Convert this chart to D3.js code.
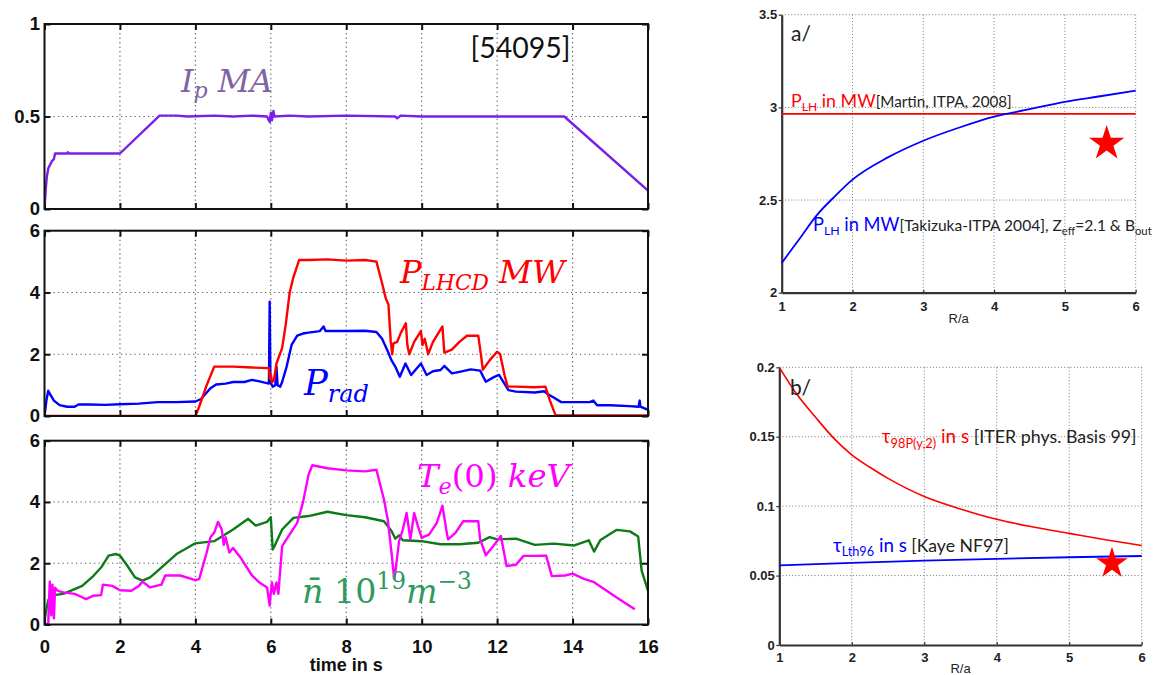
<!DOCTYPE html>
<html><head><meta charset="utf-8">
<script src="https://cdn.jsdelivr.net/npm/d3@7"></script>
<style>body{margin:0;background:#fff}svg text{white-space:pre}</style>
</head><body>
<svg id="c" width="1155" height="675"></svg>
<script>
// ---------------- DATA ----------------
const timeTicks = [0,2,4,6,8,10,12,14,16];
const ipTicks = [0,0.5,1];
const powTicks = [0,2,4,6];
const shotLabel = "[54095]";

const ip = [[0,0],[0.03,0.1],[0.06,0.17],[0.1,0.22],[0.15,0.24],[0.2,0.26],[0.25,0.27],[0.28,0.3],[0.6,0.3],[0.62,0.307],[0.64,0.3],[2.0,0.3],[3.05,0.505],[3.5,0.505],[3.8,0.5],[4.5,0.505],[5.0,0.5],[5.5,0.505],[5.9,0.5],[5.97,0.47],[6.0,0.52],[6.03,0.48],[6.07,0.53],[6.1,0.5],[6.5,0.505],[7,0.5],[8,0.505],[9.3,0.5],[9.35,0.49],[9.45,0.505],[10,0.5],[11,0.5],[13.78,0.5],[16,0.1]];

const pLHCD = [[0,0],[4.0,0],[4.1,0.3],[4.3,1.0],[4.5,1.6],[5.0,1.6],[5.5,1.57],[5.95,1.55],[5.98,1.2],[6.0,1.35],[6.03,1.1],[6.08,1.15],[6.15,1.7],[6.3,2.2],[6.4,3.0],[6.5,4.0],[6.6,4.5],[6.75,5.05],[7.0,5.05],[7.5,5.07],[8.0,5.03],[8.5,5.05],[8.8,5.0],[8.95,4.3],[9.05,3.8],[9.12,3.6],[9.18,2.4],[9.22,2.0],[9.25,2.35],[9.35,2.4],[9.45,2.7],[9.58,3.0],[9.62,2.3],[9.67,2.0],[9.8,2.4],[9.98,2.75],[10.02,2.3],[10.08,2.5],[10.12,2.3],[10.17,2.0],[10.3,2.4],[10.45,2.7],[10.55,2.9],[10.6,2.05],[10.8,2.15],[11.0,2.4],[11.2,2.6],[11.5,2.6],[11.58,1.9],[11.62,1.5],[11.8,1.8],[12.0,2.08],[12.08,2.0],[12.2,1.3],[12.28,0.95],[12.5,0.95],[13.0,0.93],[13.28,0.95],[13.4,0.5],[13.55,0.02],[16,0.02]];

const pRad = [[0,0],[0.05,0.5],[0.1,0.82],[0.15,0.7],[0.25,0.5],[0.4,0.35],[0.6,0.3],[0.8,0.3],[0.9,0.37],[1.2,0.37],[1.6,0.36],[2.0,0.38],[2.5,0.4],[3.0,0.45],[3.5,0.45],[4.0,0.47],[4.15,0.55],[4.4,0.9],[4.55,1.02],[4.8,1.05],[5.0,1.1],[5.3,1.1],[5.5,1.17],[5.7,1.12],[5.95,1.05],[5.97,3.7],[5.99,1.1],[6.05,0.95],[6.12,1.0],[6.15,1.6],[6.18,1.0],[6.25,0.95],[6.3,1.1],[6.42,1.6],[6.55,2.3],[6.7,2.6],[6.85,2.67],[7.0,2.7],[7.3,2.75],[7.4,2.9],[7.45,2.75],[8.0,2.75],[8.5,2.76],[8.8,2.72],[8.95,2.5],[9.1,2.1],[9.2,1.8],[9.3,1.6],[9.42,1.27],[9.57,1.7],[9.72,1.33],[9.98,1.7],[10.13,1.33],[10.3,1.45],[10.5,1.49],[10.6,1.62],[10.8,1.38],[11.0,1.43],[11.3,1.51],[11.55,1.47],[11.7,1.11],[11.9,1.25],[12.05,1.33],[12.3,0.84],[12.5,0.79],[13.0,0.76],[13.25,0.8],[13.35,0.7],[13.5,0.6],[13.7,0.45],[14.45,0.45],[14.55,0.5],[14.65,0.35],[15.0,0.35],[15.5,0.32],[15.75,0.3],[15.78,0.5],[15.8,0.3],[16,0.2]];

const te0 = [[0,0],[0.1,0.05],[0.14,1.4],[0.18,0.3],[0.21,1.3],[0.25,0.2],[0.28,1.2],[0.35,1.1],[0.5,1.05],[0.8,1.0],[1.0,0.89],[1.1,0.83],[1.3,0.94],[1.5,0.96],[1.55,1.3],[1.8,1.26],[2.0,1.12],[2.3,1.1],[2.5,1.26],[2.6,1.4],[2.8,1.21],[3.1,1.3],[3.2,1.6],[3.6,1.6],[4.0,1.45],[4.1,1.48],[4.3,2.35],[4.4,2.85],[4.5,3.0],[4.6,3.35],[4.7,3.1],[4.75,2.6],[4.8,2.85],[4.9,2.35],[5.0,2.5],[5.2,2.18],[5.5,1.6],[5.7,1.37],[5.9,1.21],[5.97,0.62],[6.0,1.05],[6.03,1.37],[6.08,1.0],[6.15,1.37],[6.2,1.0],[6.3,2.56],[6.5,2.94],[6.7,3.32],[6.85,3.97],[7.0,4.89],[7.1,5.2],[7.5,5.1],[8.0,5.03],[8.5,5.0],[8.8,5.05],[9.0,4.08],[9.1,3.43],[9.2,2.35],[9.27,1.5],[9.3,1.7],[9.4,2.72],[9.5,3.1],[9.6,3.64],[9.7,2.78],[9.8,3.64],[9.9,3.21],[10.0,2.83],[10.2,2.94],[10.4,3.32],[10.55,3.88],[10.65,3.1],[10.7,2.78],[10.9,3.0],[11.1,3.37],[11.5,3.37],[11.55,2.78],[11.7,2.26],[11.9,2.56],[12.1,2.89],[12.25,1.91],[12.5,1.95],[12.7,2.24],[13.0,2.24],[13.3,2.25],[13.45,1.58],[13.8,1.6],[14.0,1.66],[14.3,1.49],[14.57,1.38],[15.17,0.88],[15.65,0.5]];

const nBar = [[0,0.1],[0.05,0.5],[0.1,0.8],[0.2,0.95],[0.5,1.0],[1.0,1.26],[1.3,1.59],[1.5,1.86],[1.7,2.25],[1.9,2.3],[2.0,2.25],[2.2,1.91],[2.4,1.54],[2.6,1.43],[2.8,1.54],[3.0,1.75],[3.5,2.3],[4.0,2.65],[4.5,2.72],[5.0,3.1],[5.4,3.45],[5.6,3.23],[5.9,3.35],[6.0,3.5],[6.05,2.45],[6.1,2.56],[6.3,3.1],[6.6,3.48],[7.0,3.54],[7.5,3.68],[8.0,3.57],[8.5,3.5],[9.0,3.37],[9.2,3.05],[9.3,2.8],[9.4,2.91],[9.5,2.75],[10.0,2.72],[10.5,2.62],[11.0,2.62],[11.5,2.67],[11.8,2.85],[12.0,2.78],[12.5,2.8],[13.0,2.6],[13.5,2.64],[14.05,2.58],[14.43,2.75],[14.57,2.38],[14.74,2.76],[15.17,3.09],[15.52,3.04],[15.74,2.87],[15.83,1.77],[16,1.1]];

const raTicks = [1,2,3,4,5,6];
const pLHTicks = [2,2.5,3,3.5];
const tauTicks = [0,0.05,0.1,0.15,0.2];
const pLHTakizuka = [[1,2.16],[1.25,2.29],[1.5,2.42],[1.75,2.52],[2,2.61],[2.5,2.73],[3,2.82],[3.5,2.89],[4,2.95],[4.5,2.99],[5,3.03],[5.5,3.06],[6,3.09]];
const pLHMartin = [[1,2.965],[6,2.965]];
const starA = [[5.59,2.805]];
const tau98 = [[1,0.2],[1.25,0.18],[1.5,0.164],[1.75,0.149],[2,0.137],[2.25,0.128],[2.5,0.12],[2.75,0.113],[3,0.107],[3.5,0.098],[4,0.0905],[4.5,0.085],[5,0.0804],[5.5,0.0758],[6,0.0716]];
const tauLth96 = [[1,0.0574],[2,0.0592],[3,0.0607],[4,0.062],[5,0.0632],[6,0.0641]];
const starB = [[5.59,0.0588]];

// ---------------- DRAWING ----------------
const svg = d3.select('#c');
const defs = svg.append('defs');
const TICKFONT = "'Liberation Sans', Arial, sans-serif";
const CAL = "Lato, 'Open Sans', sans-serif";
const MATH = "'DejaVu Serif', 'Liberation Serif', serif";

function rich(x, y, parts, target) {
  const t = svg.append('text').attr('x', x).attr('y', y);
  let cur = 0;
  parts.forEach(p => {
    const s = t.append('tspan').text(p.t).attr('font-size', p.s)
      .attr('font-family', p.f).attr('font-style', p.i ? 'italic' : 'normal').attr('fill', p.c);
    const off = p.dy || 0;
    if (off - cur !== 0) s.attr('dy', off - cur);
    cur = off;
  });
  if (target) {
    const w = t.node().getComputedTextLength();
    const k = target / w;
    t.selectAll('tspan').each(function () {
      const e = d3.select(this);
      e.attr('font-size', +e.attr('font-size') * k);
      if (e.attr('dy') !== null) e.attr('dy', +e.attr('dy') * k);
    });
  }
  return t;
}

// ---- left stacked panels ----
const tx = d3.scaleLinear().domain([0, 16]).range([44.5, 648]);
const leftPanels = [
  {y0: 24, y1: 209, dom: [0, 1], ticks: ipTicks, series: [{d: ip, c: '#7a1fe8'}]},
  {y0: 230.7, y1: 416, dom: [0, 6], ticks: powTicks, series: [{d: pRad, c: '#0000ff'}, {d: pLHCD, c: '#ff0000'}]},
  {y0: 440.7, y1: 624.5, dom: [0, 6], ticks: powTicks, series: [{d: nBar, c: '#0c7a16'}, {d: te0, c: '#ff00ff'}], xlab: true}
];

leftPanels.forEach((P, i) => {
  const y = d3.scaleLinear().domain(P.dom).range([P.y1, P.y0]);
  const g = svg.append('g');
  const x0 = tx.range()[0], x1 = tx.range()[1];
  g.selectAll('.gx').data(timeTicks.slice(1, -1)).join('line')
    .attr('x1', d => tx(d)).attr('x2', d => tx(d)).attr('y1', P.y0).attr('y2', P.y1)
    .attr('stroke', '#555').attr('stroke-width', 1.1).attr('stroke-dasharray', '1.2,3.3');
  g.selectAll('.gy').data(P.ticks.slice(1, -1)).join('line')
    .attr('x1', x0).attr('x2', x1).attr('y1', d => y(d)).attr('y2', d => y(d))
    .attr('stroke', '#555').attr('stroke-width', 1.1).attr('stroke-dasharray', '1.2,3.3');
  const cid = 'clipL' + i;
  defs.append('clipPath').attr('id', cid).append('rect')
    .attr('x', x0).attr('y', P.y0 - 1).attr('width', x1 - x0).attr('height', P.y1 - P.y0 + 2);
  const line = d3.line().x(d => tx(d[0])).y(d => y(d[1]));
  P.series.forEach(s => {
    g.append('path').attr('d', line(s.d)).attr('fill', 'none').attr('stroke', s.c)
      .attr('stroke-width', 2.4).attr('stroke-linejoin', 'round').attr('clip-path', `url(#${cid})`);
  });
  const ax = (axis, tr) => {
    const a = g.append('g').attr('transform', tr).call(axis);
    a.select('.domain').remove();
    a.selectAll('line').attr('stroke', '#111').attr('stroke-width', 2);
    a.selectAll('text').attr('font-family', TICKFONT).attr('font-size', 18.5).attr('font-weight', 'bold').attr('fill', '#111');
    return a;
  };
  ax(d3.axisLeft(y).tickValues(P.ticks).tickSize(-6).tickPadding(4.5).tickFormat(d => String(d)), `translate(${x0},0)`);
  ax(d3.axisRight(y).tickValues(P.ticks).tickSize(-6).tickFormat(''), `translate(${x1},0)`);
  ax(d3.axisTop(tx).tickValues(timeTicks).tickSize(-6).tickFormat(''), `translate(0,${P.y0})`);
  ax(d3.axisBottom(tx).tickValues(timeTicks).tickSize(-6).tickPadding(15.5).tickFormat(P.xlab ? (d => String(d)) : ''), `translate(0,${P.y1})`);
  g.append('rect').attr('x', x0).attr('y', P.y0).attr('width', x1 - x0).attr('height', P.y1 - P.y0)
    .attr('fill', 'none').attr('stroke', '#111').attr('stroke-width', 2);
});

svg.append('text').attr('x', tx(8)).attr('y', 671).attr('text-anchor', 'middle')
  .attr('font-family', TICKFONT).attr('font-size', 18).attr('font-weight', 'bold').attr('fill', '#111').text('time in s');

rich(470.6, 58.3, [{t: shotLabel, s: 24, f: CAL, c: '#111'}], 100);
rich(181, 91.7, [
  {t: 'I', s: 30, f: MATH, i: 1, c: '#8064a2'},
  {t: 'p', s: 21, f: MATH, i: 1, c: '#8064a2', dy: 6},
  {t: ' MA', s: 30, f: MATH, i: 1, c: '#8064a2'}], 92);
rich(400, 283, [
  {t: 'P', s: 34, f: MATH, i: 1, c: '#ff0000'},
  {t: 'LHCD', s: 23, f: MATH, i: 1, c: '#ff0000', dy: 7},
  {t: ' MW', s: 34, f: MATH, i: 1, c: '#ff0000'}], 165);
rich(304, 395, [
  {t: 'P', s: 34, f: MATH, i: 1, c: '#0000ff'},
  {t: 'rad', s: 23, f: MATH, i: 1, c: '#0000ff', dy: 7}], 65);
rich(417, 486.7, [
  {t: 'T', s: 32, f: MATH, i: 1, c: '#ff00ff'},
  {t: 'e', s: 22, f: MATH, i: 1, c: '#ff00ff', dy: 7},
  {t: '(0) ', s: 32, f: MATH, c: '#ff00ff'},
  {t: 'keV', s: 32, f: MATH, i: 1, c: '#ff00ff'}], 153);
rich(302, 603.3, [
  {t: 'n\u0304', s: 30, f: MATH, i: 1, c: '#2e9a5e'},
  {t: ' 10', s: 30, f: MATH, c: '#2e9a5e'},
  {t: '19', s: 21, f: MATH, c: '#2e9a5e', dy: -13},
  {t: 'm', s: 30, f: MATH, i: 1, c: '#2e9a5e'},
  {t: '\u22123', s: 21, f: MATH, c: '#2e9a5e', dy: -13}], 170);

// ---- right panels ----
function rightPanel(x0, x1, y0, y1, ydom, yticks, xlabPad, ylabBase) {
  const x = d3.scaleLinear().domain([1, 6]).range([x0, x1]);
  const y = d3.scaleLinear().domain(ydom).range([y1, y0]);
  const g = svg.append('g');
  g.selectAll('.gx').data(raTicks.slice(1)).join('line')
    .attr('x1', d => x(d)).attr('x2', d => x(d)).attr('y1', y0).attr('y2', y1)
    .attr('stroke', '#777').attr('stroke-width', 1).attr('stroke-dasharray', '1,2.2');
  g.selectAll('.gy').data(yticks.slice(1)).join('line')
    .attr('x1', x0).attr('x2', x1).attr('y1', d => y(d)).attr('y2', d => y(d))
    .attr('stroke', '#777').attr('stroke-width', 1).attr('stroke-dasharray', '1,2.2');
  const st = a => {
    a.select('.domain').attr('stroke', '#333').attr('stroke-width', 2.2);
    a.selectAll('.tick line').attr('stroke', '#333').attr('stroke-width', 1.2);
    a.selectAll('text').attr('font-family', TICKFONT).attr('font-size', 13).attr('font-weight', 'bold').attr('fill', '#222');
  };
  g.append('g').attr('transform', `translate(${x0},0)`)
    .call(d3.axisLeft(y).tickValues(yticks).tickSize(3).tickSizeOuter(0).tickPadding(1.5).tickFormat(d => String(d))).call(st);
  g.append('g').attr('transform', `translate(0,${y1})`)
    .call(d3.axisBottom(x).tickValues(raTicks).tickSize(-3).tickSizeOuter(0).tickPadding(xlabPad).tickFormat(d => String(d))).call(st);
  g.append('text').attr('x', (x0 + x1) / 2).attr('y', ylabBase).attr('text-anchor', 'middle')
    .attr('font-family', TICKFONT).attr('font-size', 13).attr('fill', '#222').text('R/a');
  return {x, y, g};
}

const starSym = R => d3.symbol().type(d3.symbolStar).size(R * R / 0.8908130915292852)();

const A = rightPanel(781.7, 1135.7, 14.7, 292.7, [2, 3.5], pLHTicks, 9, 323);
const lineA = d3.line().x(d => A.x(d[0])).y(d => A.y(d[1]));
A.g.append('path').attr('d', lineA(pLHMartin)).attr('fill', 'none').attr('stroke', '#ff0000').attr('stroke-width', 1.6);
A.g.append('path').attr('d', lineA.curve(d3.curveMonotoneX)(pLHTakizuka)).attr('fill', 'none').attr('stroke', '#0000ff').attr('stroke-width', 1.8);
A.g.selectAll('.star').data(starA).join('path').attr('d', starSym(18.5))
  .attr('transform', d => `translate(${A.x(d[0])},${A.y(d[1])})`).attr('fill', '#ff0000');

const B = rightPanel(779.3, 1141.7, 367.3, 645, [0, 0.2], tauTicks, 8, 673);
const lineB = d3.line().x(d => B.x(d[0])).y(d => B.y(d[1])).curve(d3.curveMonotoneX);
B.g.append('path').attr('d', lineB(tau98)).attr('fill', 'none').attr('stroke', '#ff0000').attr('stroke-width', 1.6);
B.g.append('path').attr('d', lineB(tauLth96)).attr('fill', 'none').attr('stroke', '#0000ff').attr('stroke-width', 1.8);
B.g.selectAll('.star').data(starB).join('path').attr('d', starSym(16.5))
  .attr('transform', d => `translate(${B.x(d[0])},${B.y(d[1])})`).attr('fill', '#ff0000');

rich(791, 40.7, [{t: 'a/', s: 21, f: CAL, c: '#222'}]);
rich(790, 395, [{t: 'b/', s: 21, f: CAL, c: '#222'}]);
rich(791, 106.7, [
  {t: 'P', s: 17, f: CAL, c: '#ff0000'},
  {t: 'LH', s: 11.5, f: CAL, c: '#ff0000', dy: 4},
  {t: ' in MW', s: 17, f: CAL, c: '#ff0000'},
  {t: '[Martin, ITPA, 2008]', s: 14.5, f: CAL, c: '#222'}], 221);
rich(813, 230.7, [
  {t: 'P', s: 17, f: CAL, c: '#0000ff'},
  {t: 'LH', s: 11.5, f: CAL, c: '#0000ff', dy: 4},
  {t: ' in MW', s: 17, f: CAL, c: '#0000ff'},
  {t: '[Takizuka-ITPA 2004], Z', s: 14.5, f: CAL, c: '#222'},
  {t: 'eff', s: 10.5, f: CAL, c: '#222', dy: 4},
  {t: '=2.1 & B', s: 14.5, f: CAL, c: '#222'},
  {t: 'out', s: 10.5, f: CAL, c: '#222', dy: 4}], 339);
rich(881.7, 443.3, [
  {t: '\u03c4', s: 17, f: CAL, c: '#ff0000'},
  {t: '98P(y,2)', s: 11.5, f: CAL, c: '#ff0000', dy: 4},
  {t: ' in s', s: 17, f: CAL, c: '#ff0000'},
  {t: ' [ITER phys. Basis 99]', s: 16, f: CAL, c: '#222'}], 255);
rich(833, 551.7, [
  {t: '\u03c4', s: 17, f: CAL, c: '#0000ff'},
  {t: 'Lth96', s: 11.5, f: CAL, c: '#0000ff', dy: 4},
  {t: ' in s', s: 17, f: CAL, c: '#0000ff'},
  {t: ' [Kaye NF97]', s: 16, f: CAL, c: '#222'}], 176);
</script>
</body></html>
